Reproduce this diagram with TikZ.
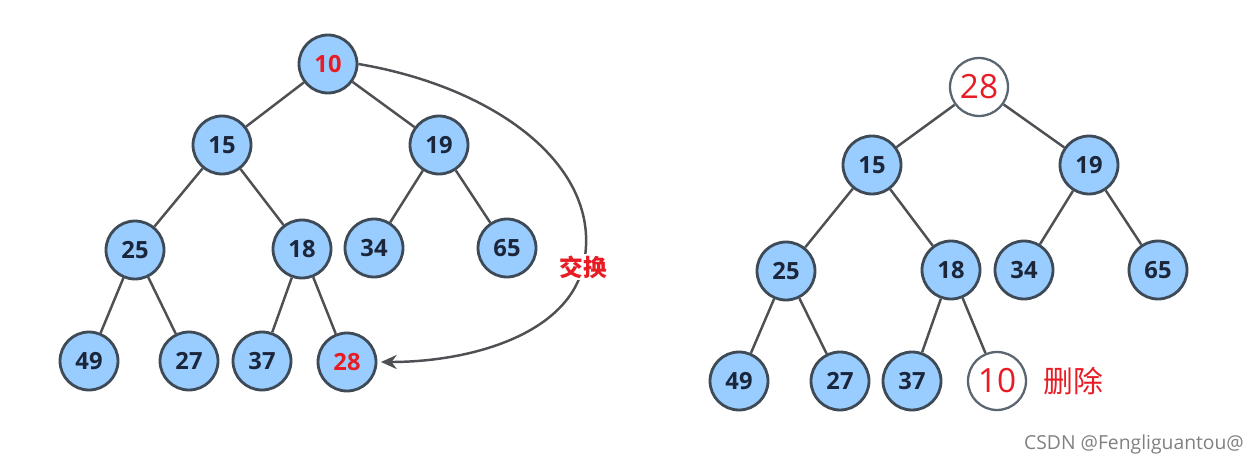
\documentclass[tikz,border=0pt]{standalone}
\usepackage{fontspec}
\setmainfont{Open Sans}
\newfontfamily\cjk{Noto Sans CJK SC}
\usetikzlibrary{arrows.meta, positioning}

\definecolor{nodeblue}{RGB}{153,204,255}
\definecolor{rimgray}{RGB}{62,74,86}
\definecolor{linegray}{RGB}{78,80,84}
\definecolor{digitnavy}{RGB}{28,38,58}
\definecolor{markred}{RGB}{232,28,36}

\begin{document}
\begin{tikzpicture}[
        x=0.02cm, y=-0.02cm,
        font=\bfseries\fontsize{13.5}{14}\selectfont,
        heapnode/.style={circle, draw=rimgray, line width=1.6pt, fill=nodeblue, text=digitnavy, minimum size=1.16cm, inner sep=0pt},
        swapped/.style={heapnode, text=markred},
        removed/.style={circle, draw=rimgray!85, line width=1.3pt, fill=white, text=markred, minimum size=1.16cm, inner sep=0pt, font=\fontsize{19}{20}\selectfont},
        branch/.style={draw=linegray, line width=1.4pt},
        connector/.style={-{Stealth[length=9pt, width=8pt]}, draw=linegray, line width=1.4pt},
        lbl/.style={text=markred, fill=white, inner sep=1pt}
    ]
        \useasboundingbox (0,0) rectangle (1258,466);

        % left heap, before the swap
        \node (la) [swapped] at (328,64) {10};
        \node (lb) [heapnode] at (222,145) {15};
        \node (lc) [heapnode] at (439,145) {19};
        \node (ld) [heapnode] at (135,250) {25};
        \node (le) [heapnode] at (302,249) {18};
        \node (lf) [heapnode] at (374,248) {34};
        \node (lg) [heapnode] at (507,248) {65};
        \node (lh) [heapnode] at (89,361) {49};
        \node (li) [heapnode] at (189,361) {27};
        \node (lj) [heapnode] at (262,361) {37};
        \node (lk) [swapped] at (347,362) {28};

        \draw [branch] (la) -- (lb);
        \draw [branch] (la) -- (lc);
        \draw [branch] (lb) -- (ld);
        \draw [branch] (lb) -- (le);
        \draw [branch] (lc) -- (lf);
        \draw [branch] (lc) -- (lg);
        \draw [branch] (ld) -- (lh);
        \draw [branch] (ld) -- (li);
        \draw [branch] (le) -- (lj);
        \draw [branch] (le) -- (lk);

        \draw [connector] (la.east) .. controls (500,88) and (606,170) .. (583,267)
            node (swaplbl) [lbl, font=\cjk\bfseries\fontsize{13.5}{14}\selectfont] {交换}
            .. controls (566,335) and (470,362) .. ([xshift=2pt]lk.east);

        % right heap, after the swap
        \node (ra) [removed] at (979,87) {28};
        \node (rb) [heapnode] at (872,165) {15};
        \node (rc) [heapnode] at (1089,165) {19};
        \node (rd) [heapnode] at (786,271) {25};
        \node (re) [heapnode] at (951,270) {18};
        \node (rf) [heapnode] at (1024,270) {34};
        \node (rg) [heapnode] at (1158,270) {65};
        \node (rh) [heapnode] at (739,381) {49};
        \node (ri) [heapnode] at (840,381) {27};
        \node (rj) [heapnode] at (912,381) {37};
        \node (rk) [removed] at (997,381) {10};
        \node (dellbl) [lbl, right=0.28cm of rk, font=\cjk\fontsize{17}{18}\selectfont] {删除};

        \draw [branch] (ra) -- (rb);
        \draw [branch] (ra) -- (rc);
        \draw [branch] (rb) -- (rd);
        \draw [branch] (rb) -- (re);
        \draw [branch] (rc) -- (rf);
        \draw [branch] (rc) -- (rg);
        \draw [branch] (rd) -- (rh);
        \draw [branch] (rd) -- (ri);
        \draw [branch] (re) -- (rj);
        \draw [branch] (re) -- (rk);

        \node (mark) [text=black!50, font=\fontsize{11}{12}\selectfont] at (1134,444) {CSDN @Fengliguantou@};
    \end{tikzpicture}
\end{document}
